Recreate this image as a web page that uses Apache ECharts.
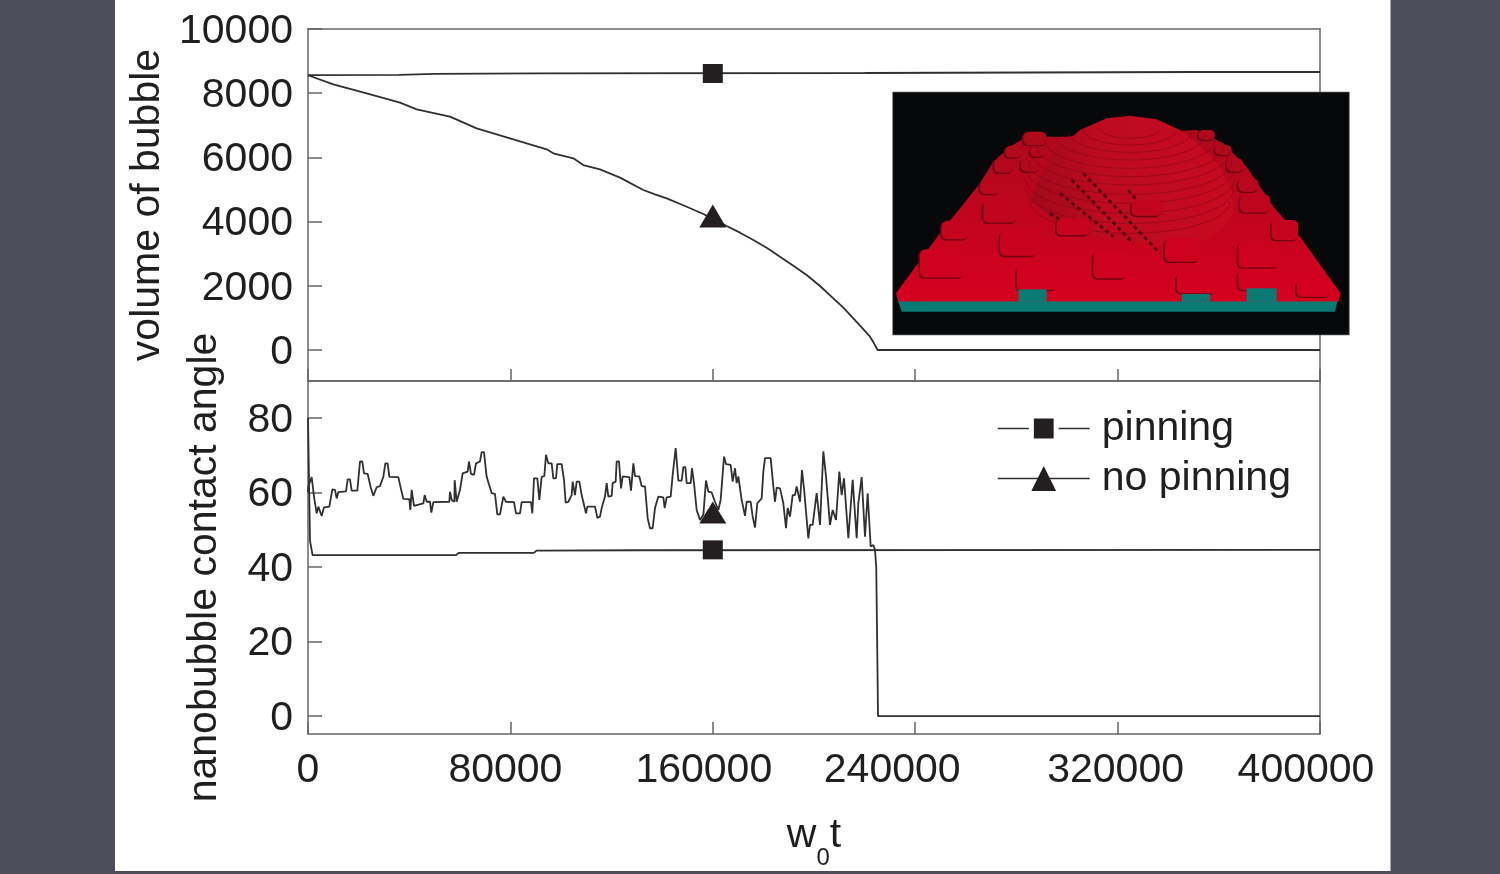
<!DOCTYPE html>
<html><head><meta charset="utf-8">
<style>html,body{margin:0;padding:0;background:#4d4e5b;width:1500px;height:874px;overflow:hidden}#c{width:1500px;height:874px}</style>
<script src="https://cdn.jsdelivr.net/npm/echarts@6/dist/echarts.min.js"></script>
</head><body><div id="c"></div>
<script>
const xTicks = [0, 80000, 160000, 240000, 320000, 400000];
const volumeTicks = [0, 2000, 4000, 6000, 8000, 10000];
const angleTicks = [0, 20, 40, 60, 80];
const seriesNames = ['pinning', 'no pinning'];

const volumePinning = [[0,8560],[36000,8570],[50000,8600],[90000,8620],[220000,8630],[350000,8660],[400000,8660]];
const volumeNoPinning = [[0,8560],[10010,8276],[23180,7996],[36360,7705],[42950,7497],[56130,7269],[66660,6905],[78520,6625],[94330,6251],[96970,6126],[104870,5971],[108820,5763],[115410,5628],[123320,5370],[132540,4984],[137155,4849],[141770,4724],[149012,4486],[156260,4236],[160870,4049],[165480,3863],[170750,3655],[176020,3426],[181290,3188],[186560,2907],[191830,2627],[197100,2336],[202370,1993],[207640,1609],[211600,1318],[215540,986],[218840,706],[222140,415],[223720,208],[225170,0],[400000,0]];
const anglePinning = [[0,80],[800,47],[1800,43.2],[58500,43.2],[59500,43.8],[89300,43.8],[90300,44.4],[130000,44.5],[400000,44.6]];
const angleNoPinning = [[0,60],[132,61.6],[1450,64.1],[2370,58.9],[3425,54.4],[4085,56.2],[5400,53.7],[6325,56],[8430,56.2],[9620,60.8],[10670,60.7],[11330,58.4],[12000,60.1],[15020,60.3],[15680,63.5],[16600,63.5],[17260,60.5],[19500,60.5],[20550,68.3],[21475,68.3],[22135,65.1],[23580,65],[24770,61.4],[25825,59.1],[27140,61.4],[28460,61.7],[29775,64.2],[30565,67.8],[31490,67.8],[32150,64.2],[35700,64.1],[36760,60.9],[37680,58.3],[40050,58.2],[40450,55.3],[40975,60.7],[41900,56.4],[45585,57.1],[46110,59.3],[46900,57.5],[48220,57.5],[48750,54.6],[49540,57.4],[55860,57.5],[56125,60.2],[56785,58],[57840,57.5],[57970,63.3],[58760,57.5],[60080,60.7],[61130,65.1],[63110,65.6],[63630,68.3],[64425,65],[65610,64.7],[66400,67.8],[67980,68.3],[68640,70.8],[69560,70.8],[70620,64.2],[72600,59.8],[73910,59.6],[74830,54.1],[75890,54.1],[77200,58.9],[78260,57.5],[81420,57.4],[82210,54.4],[83790,54.4],[84450,57.4],[88140,57.4],[88670,54.4],[89330,63.8],[90645,63.8],[91435,58],[92355,64.2],[93410,64.4],[94070,70.1],[94990,67.8],[96310,67.8],[96970,63.8],[98020,63.8],[98550,67.6],[100260,67.6],[101180,63.4],[101840,57.3],[102900,57.5],[104210,59.3],[104610,62.9],[105530,59.3],[106190,62.9],[107250,62.9],[108170,59.3],[109880,54.4],[110410,56.2],[113440,56.2],[114360,53.2],[115416,53.5],[116075,55.8],[117390,58.9],[118050,62.5],[118710,58.9],[120030,59.1],[120420,62.5],[121610,62.9],[122000,68.3],[122925,68.3],[123720,61.1],[124375,64.3],[127010,64.1],[127670,60.5],[128590,67.8],[129250,64.4],[130960,64.3],[131885,61.7],[133200,61.6],[134260,53.1],[135180,50.4],[136230,50.4],[137155,55.8],[138470,58.9],[140450,58.7],[140975,55.8],[141770,58.7],[143350,58.9],[144140,64.7],[145320,71.9],[146380,63.2],[147700,63.2],[148350,66.8],[149145,66.8],[149670,62.5],[151250,62.5],[151780,66.5],[152570,62.5],[153620,55.3],[154940,52.6],[156260,54],[157310,63.2],[158235,60.2],[159550,60],[160870,57.5],[162190,55.3],[163110,58],[164430,69.6],[165220,67.6],[167060,67.4],[167850,62.9],[168775,66.5],[169430,62.5],[170090,64.3],[171410,58],[172730,53.7],[173385,57.5],[174970,57.5],[175760,53.5],[176680,50.6],[177600,57.1],[179315,58.4],[179975,65.6],[180630,69.2],[182870,69.2],[183930,61.6],[184585,57.5],[185245,61.3],[186560,61.1],[187880,57.1],[188930,50.4],[189590,55.8],[190510,53.5],[191570,59.3],[192490,59.3],[193150,61.6],[194470,57.5],[195255,66],[196050,61.1],[196840,61.1],[197760,47.7],[198420,51.3],[199470,51.3],[201050,59.8],[202370,51.3],[203690,71],[204740,64.3],[206320,51.3],[207380,55.3],[208695,52.6],[210010,65.6],[210935,59.3],[211860,63.8],[213570,47.7],[215285,63.4],[216865,47.7],[217520,57.1],[218840,64.1],[220160,48.1],[221210,59.8],[222400,45.5],[223450,45.9],[224110,44.6],[224600,40],[225000,18],[225300,0],[400000,0]];

const markerVolumePinning = [[160000,8613]];
const markerVolumeNoPinning = [[160000,4174]];
const markerAnglePinning = [[160000,44.6]];
const markerAngleNoPinning = [[160000,54.6]];

const ink = '#303030', fillInk = '#231f20', axisInk = '#666', textInk = '#1f1f1f';
const font = '"Liberation Sans", Arial, sans-serif';
const fs = 41;

// decorative inset picture (drawn in a local 3x coordinate space)
const pads = [[465,175,70,40],[400,215,50,35],[475,215,50,30],[370,258,55,40],[450,255,55,40],[330,322,60,40],[360,395,100,65],[225,450,80,55],[415,490,110,75],[185,550,130,85],[690,555,100,80],[470,595,120,70],[580,440,100,50],[800,385,90,45],[905,510,100,70],[1135,525,120,75],[950,610,120,60],[1130,600,110,60],[1300,625,100,50],[1215,450,80,60],[1125,370,90,55],[1105,315,60,40],[1065,255,50,40],[1030,210,50,30],[980,165,50,30]];
const domeOutline = [[450,360],[480,290],[530,210],[600,150],[680,115],[750,107],[830,118],[900,150],[960,200],[1020,260],[1055,330],[1060,400],[1020,450],[960,490],[850,500],[640,470],[520,420]];
const stairs = [[[610,280],[840,520]],[[575,300],[760,490]],[[540,340],[700,470]],[[510,400],[620,470]],[[745,330],[800,400]]];
const ringSpec = [[145,90,30],[150,140,45],[155,185,62],[165,225,75],[180,255,85],[198,280,92],[220,295,95],[245,305,98],[270,310,100],[300,312,100],[330,310,100],[365,300,95]];
function redAt(y){
  const k=Math.min(1,Math.max(0,(y-150)/500));
  return `rgb(${Math.round(172+42*k)},${Math.round(10-10*k)},${Math.round(28+4*k)})`;
}
function insetChildren(){
  const out = [];
  out.push({type:'rect',shape:{x:38,y:36,width:1370,height:729},style:{fill:'#07080a',stroke:'#777',lineWidth:2}});
  out.push({type:'polygon',shape:{points:[[55,665],[1372,665],[1365,695],[65,695]]},style:{fill:'#0b7a72'}});
  out.push({type:'polygon',shape:{points:[[48,640],[180,460],[300,310],[340,245],[390,200],[440,170],[550,170],[950,150],[1030,190],[1100,260],[1180,380],[1260,470],[1382,640],[1375,665],[55,665]]},
    style:{fill:{type:'linear',x:0,y:0,x2:0,y2:1,colorStops:[{offset:0,color:'#ac0a1c'},{offset:1,color:'#d6001f'}]}}});
  pads.forEach(p=>{
    out.push({type:'rect',shape:{x:p[0]-p[2]/2-5,y:p[1]-p[3]/2+4,width:p[2]+3,height:p[3],r:16},style:{fill:'#6e0413'}});
    out.push({type:'rect',shape:{x:p[0]-p[2]/2,y:p[1]-p[3]/2,width:p[2],height:p[3],r:16},style:{fill:redAt(p[1]+10)}});
  });
  out.push({type:'polygon',shape:{points:domeOutline},style:{fill:{type:'linear',x:0,y:0,x2:1,y2:0,colorStops:[{offset:0,color:'#a00a1b'},{offset:.35,color:'#bd0b20'},{offset:1,color:'#c70a20'}]}}});
  ringSpec.forEach(r=>{
    const pts=[];for(let a=0;a<=36;a++){const t=a/36*Math.PI;pts.push([750+r[1]*Math.cos(t),r[0]+r[2]*Math.sin(t)]);}
    out.push({type:'polyline',shape:{points:pts},style:{stroke:'#7d0616',lineWidth:3,opacity:.55,fill:null}});
  });
  stairs.forEach(s=>out.push({type:'line',shape:{x1:s[0][0],y1:s[0][1],x2:s[1][0],y2:s[1][1]},style:{stroke:'#5e0410',lineWidth:9,lineDash:[12,10]}}));
  [[580,440,100,50],[800,385,90,45],[905,510,100,70]].forEach(p=>{
    out.push({type:'rect',shape:{x:p[0]-p[2]/2-5,y:p[1]-p[3]/2+4,width:p[2]+3,height:p[3],r:16},style:{fill:'#6e0413'}});
    out.push({type:'rect',shape:{x:p[0]-p[2]/2,y:p[1]-p[3]/2,width:p[2],height:p[3],r:16},style:{fill:redAt(p[1]+40)}});
  });
  [[415,500,628,665],[905,990,642,665],[1100,1190,625,665]].forEach(b=>
    out.push({type:'rect',shape:{x:b[0],y:b[2],width:b[1]-b[0],height:b[3]-b[2]},style:{fill:'#0b7a72'}}));
  out.push({type:'line',shape:{x1:55,y1:665,x2:1375,y2:665},style:{stroke:'#1d8d80',lineWidth:3,lineDash:[4,4]}});
  return out;
}

const xShift = {0:0,80000:10,160000:18,240000:46,320000:4,400000:28};
const rich = {};
xTicks.forEach(v=>{rich['v'+v]={fontFamily:font,fontSize:fs,color:textInk,padding:[0,xShift[v],0,0]};});
const yRich = {a:{fontFamily:font,fontSize:fs,color:textInk,padding:[5,0,0,0]}};

const lineStyle = {color:ink,width:1.8};
const axisLine = {show:true,onZero:false,lineStyle:{color:axisInk,width:1.5}};
function lineSeries(name,data,i){
  return {name,type:'line',data,xAxisIndex:i,yAxisIndex:i,symbol:name==='pinning'?'rect':'triangle',showSymbol:false,
    lineStyle,itemStyle:{color:fillInk},silent:true,animation:false,clip:true,z:3};
}
function markerSeries(data,i,sym,size){
  return {name:'marker',type:'scatter',data,xAxisIndex:i,yAxisIndex:i,symbol:sym,symbolSize:size,itemStyle:{color:fillInk,opacity:1},silent:true,animation:false,z:4};
}
function xAxisCfg(i,showLabel){
  const c={type:'value',gridIndex:i,position:'bottom',min:0,max:400000,interval:80000,splitLine:{show:false},
    axisLine,
    axisTick:{show:true,inside:true,length:12,lineStyle:{color:axisInk,width:1.5}},
    axisLabel:{show:showLabel,margin:16,showMinLabel:true,showMaxLabel:true,hideOverlap:false,formatter:v=>`{v${v}|${v}}`,rich}};
  if(showLabel){
    c.name='{n|w}{s|0}{n|t}';c.nameLocation='middle';c.nameGap=67;
    c.nameTextStyle={rich:{n:{fontFamily:font,fontSize:fs,color:textInk},s:{fontFamily:font,fontSize:24,color:textInk,padding:[45,0,0,0]}}};
  }
  return c;
}
function yAxisCfg(i,min,max,ticks,name,gap,pad){
  return {type:'value',gridIndex:i,min,max,splitLine:{show:false},
    axisLine,
    axisTick:{show:true,inside:true,length:14,customValues:ticks,lineStyle:{color:axisInk,width:1.5}},
    axisLabel:{margin:15,customValues:ticks,hideOverlap:false,formatter:v=>`{a|${v}}`,rich:yRich},
    name,nameLocation:'middle',nameGap:gap,nameTextStyle:{fontFamily:font,fontSize:fs,color:textInk,padding:pad}};
}
function edgeX(i){return {type:'value',gridIndex:i,position:'top',min:0,max:400000,axisLine,axisTick:{show:false},axisLabel:{show:false},splitLine:{show:false}};}
function edgeY(i,min,max){return {type:'value',gridIndex:i,position:'right',min,max,axisLine,axisTick:{show:false},axisLabel:{show:false},splitLine:{show:false}};}

const chart = echarts.init(document.getElementById('c'),null,{renderer:'canvas'});
chart.setOption({
  animation:false,
  backgroundColor:'#4d4e5b',
  graphic:[
    {type:'rect',z:-10,silent:true,shape:{x:115,y:0,width:1275.5,height:871},style:{fill:'#fff'}},
    {type:'group',x:880,y:80,scaleX:1/3,scaleY:1/3,z:50,silent:true,children:insetChildren().map(o=>Object.assign(o,{z:50}))}
  ],
  grid:[
    {left:308,top:29,width:1012,height:352,show:false},
    {left:308,top:381,width:1012,height:353,show:false}
  ],
  xAxis:[xAxisCfg(0,false),xAxisCfg(1,true),edgeX(0),edgeX(1)],
  yAxis:[
    yAxisCfg(0,-966,10000,volumeTicks,'volume of bubble',136,[0,0,0,0]),
    yAxisCfg(1,-4.8,89.9,angleTicks,'nanobubble contact angle',83,[0,20,0,0]),
    edgeY(0,-966,10000),edgeY(1,-4.8,89.9)
  ],
  legend:{show:true,orient:'vertical',left:997,top:408,padding:0,itemWidth:92,itemHeight:31,itemGap:9,
    data:[{name:seriesNames[0],itemStyle:{borderColor:'#fff',borderWidth:5}},{name:seriesNames[1],itemStyle:{borderWidth:0}}],selectedMode:false,
    lineStyle:{color:ink,width:1.5},
    textStyle:{fontFamily:font,fontSize:fs,color:textInk,padding:[0,0,0,7]}},
  series:[
    lineSeries('pinning',anglePinning,1),
    lineSeries('no pinning',angleNoPinning,1),
    lineSeries('pinning',volumePinning,0),
    lineSeries('no pinning',volumeNoPinning,0),
    markerSeries(markerVolumePinning,0,'rect',[20,19]),
    markerSeries(markerVolumeNoPinning,0,'triangle',[27,23]),
    markerSeries(markerAnglePinning,1,'rect',[20,19]),
    markerSeries(markerAngleNoPinning,1,'triangle',[27,22])
  ]
});
</script></body></html>
